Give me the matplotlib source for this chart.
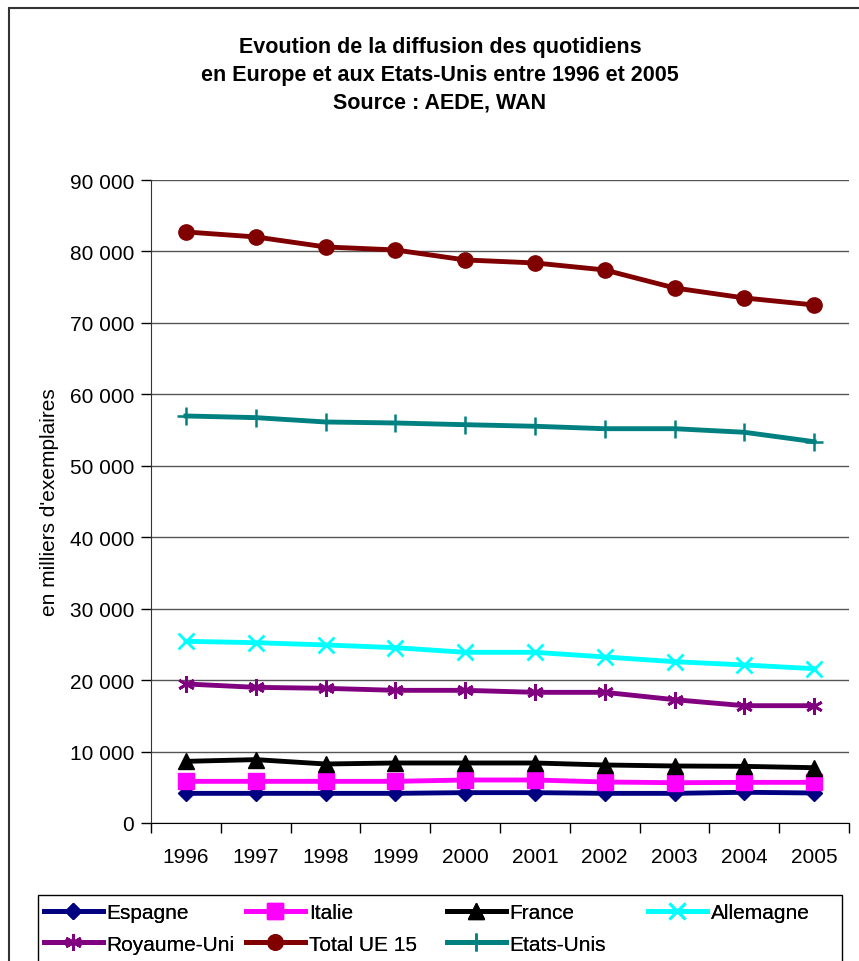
import matplotlib.pyplot as plt
from matplotlib.patches import Rectangle
from matplotlib.ticker import FuncFormatter

plt.rcParams['font.family'] = ['Liberation Sans', 'DejaVu Sans']

years = ['1996', '1997', '1998', '1999', '2000', '2001', '2002', '2003', '2004', '2005']

espagne = [4150, 4150, 4150, 4150, 4250, 4250, 4150, 4150, 4300, 4200]
italie = [5830, 5830, 5830, 5830, 6020, 6020, 5740, 5640, 5690, 5690]
france = [8630, 8870, 8260, 8400, 8400, 8400, 8120, 7980, 7930, 7740]
allemagne = [25430, 25240, 24920, 24540, 23890, 23890, 23240, 22580, 22120, 21600]
royaume_uni = [19460, 18990, 18850, 18570, 18570, 18290, 18290, 17260, 16420, 16420]
total_ue15 = [82730, 82030, 80630, 80210, 78810, 78390, 77410, 74890, 73490, 72510]
etats_unis = [56970, 56740, 56130, 55990, 55750, 55530, 55190, 55190, 54690, 53370]

W, H = 859, 962
fig = plt.figure(figsize=(W / 100, H / 100), dpi=100)

# outer chart frame
fig.patches.append(Rectangle((9 / W, -0.05), 1.0, 1.0 - 9 / H + 0.05,
                             transform=fig.transFigure, fill=False,
                             edgecolor='#333333', linewidth=1.5))

ax = fig.add_axes([151 / W, (H - 824) / H, (849 - 151) / W, (824 - 181) / H])

x = list(range(len(years)))
series = [
    ('Espagne', espagne, '#000080', dict(marker='D', markersize=8)),
    ('Italie', italie, '#FF00FF', dict(marker='s', markersize=11)),
    ('France', france, '#000000', dict(marker='^', markersize=11)),
    ('Allemagne', allemagne, '#00FFFF', dict(marker='x', markersize=11, markeredgewidth=2)),
    ('Royaume-Uni', royaume_uni, '#800080', dict(marker=(6, 2, 0), markersize=12, markeredgewidth=2)),
    ('Total UE 15', total_ue15, '#800000', dict(marker='o', markersize=11)),
    ('Etats-Unis', etats_unis, '#008080', dict(marker='+', markersize=13, markeredgewidth=1.8)),
]
handles = {}
for name, vals, col, mk in series:
    ln, = ax.plot(x, vals, color=col, linewidth=3.5, label=name,
                  markerfacecolor=col, markeredgecolor=col, clip_on=False, **mk)
    handles[name] = ln

ax.set_xlim(-0.5, len(years) - 0.5)
ax.set_ylim(0, 90000)
ax.set_yticks(range(0, 90001, 10000))
ax.yaxis.set_major_formatter(FuncFormatter(lambda v, p: f'{int(v):,}'.replace(',', ' ')))
ax.grid(axis='y', color='#555555', linewidth=1)
ax.set_axisbelow(True)

# category boundaries as ticks, year labels centred between them
ax.set_xticks([i - 0.5 for i in range(len(years) + 1)])
ax.set_xticklabels([])
ax.set_xticks(x, minor=True)
ax.set_xticklabels(years, minor=True)
ax.tick_params(axis='x', which='major', length=7, width=1, direction='out')
ax.tick_params(axis='x', which='minor', length=0, pad=17, labelsize=15)
ax.tick_params(axis='y', length=7, width=1, direction='out', pad=5, labelsize=15)

for s in ['top', 'right']:
    ax.spines[s].set_visible(False)
ax.spines['left'].set_color('#333333')
ax.spines['bottom'].set_color('#000000')

ax.set_ylabel("en milliers d'exemplaires", fontsize=15, labelpad=8)

title_lines = ['Evoution de la diffusion des quotidiens',
               'en Europe et aux Etats-Unis entre 1996 et 2005',
               'Source : AEDE, WAN']
for i, t in enumerate(title_lines):
    fig.text(440 / W, 1 - (47 + 28 * i) / H, t,
             ha='center', va='center', fontsize=15.5, fontweight='bold')

# legend: framed box, one column per legend so the columns sit on a fixed grid
fig.patches.append(Rectangle((38 / W, -0.05), (842 - 38) / W, 1 - 896 / H + 0.05,
                             transform=fig.transFigure, fill=False,
                             edgecolor='black', linewidth=1))
columns = [['Espagne', 'Royaume-Uni'], ['Italie', 'Total UE 15'],
           ['France', 'Etats-Unis'], ['Allemagne']]
col_x = [40, 242, 443, 644]
for names, cx in zip(columns, col_x):
    leg = fig.legend([handles[n] for n in names], names, loc='upper left',
                     bbox_to_anchor=(cx / W, 1 - 900 / H),
                     bbox_transform=fig.transFigure, fontsize=15,
                     frameon=False, handlelength=2.8, handletextpad=0.2,
                     borderaxespad=0, borderpad=0.2, labelspacing=0.6)
    fig.add_artist(leg)

fig.savefig('out.png', dpi=100)
